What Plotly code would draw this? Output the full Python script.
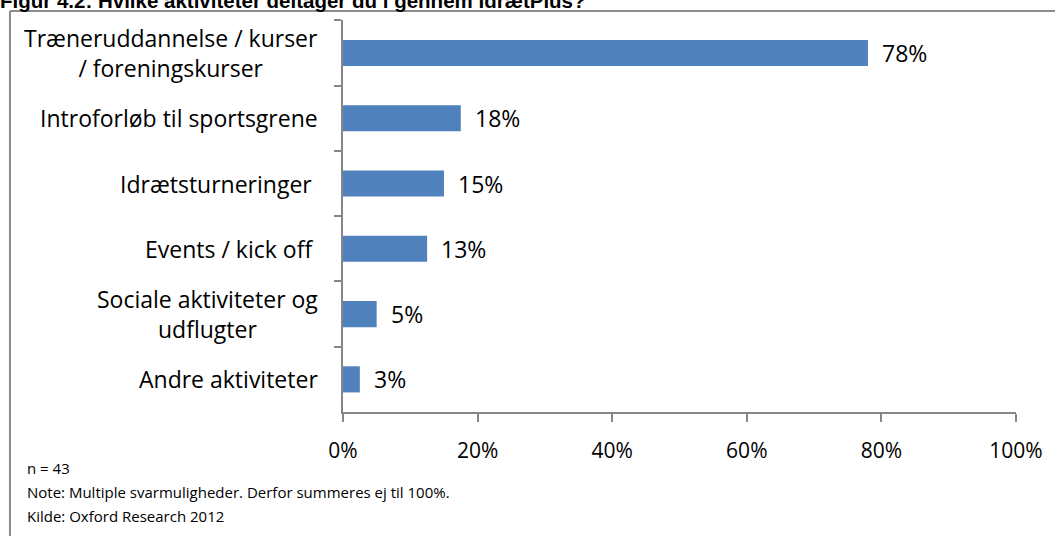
import plotly.graph_objects as go

# data
categories = [
    "Træneruddannelse / kurser<br>/ foreningskurser",
    "Introforløb til sportsgrene",
    "Idrætsturneringer ",
    "Events / kick off ",
    "Sociale aktiviteter og<br>udflugter",
    "Andre aktiviteter",
]
values = [0.78, 0.175, 0.15, 0.125, 0.05, 0.025]
value_labels = ["78%", "18%", "15%", "13%", "5%", "3%"]
x_ticks = [0, 0.2, 0.4, 0.6, 0.8, 1.0]

TITLE = "Figur 4.2: Hvilke aktiviteter deltager du i gennem IdrætPlus?"
FOOTNOTES = [
    "n = 43",
    "Note: Multiple svarmuligheder. Derfor summeres ej til 100%.",
    "Kilde: Oxford Research 2012",
]

FONT = "Open Sans, Calibri, sans-serif"
BAR_COLOR = "#4F81BD"
AXIS_COLOR = "#868686"

W, H = 1055, 536
ML, MR, MT, MB = 343, 35, 20, 124
PW, PH = W - ML - MR, H - MT - MB


def px_to_paper(xp, yp):
    return (xp - ML) / PW, (H - MB - yp) / PH


fig = go.Figure(go.Bar(
    x=values, y=categories, orientation="h",
    marker=dict(color=BAR_COLOR, line=dict(width=0)),
    hoverinfo="x+y",
))

annotations = []
# category labels: right aligned block, lines centered
for cat in categories:
    annotations.append(dict(
        x=0, xref="paper", y=cat, yref="y", text=cat,
        xanchor="right", align="center", xshift=-23,
        showarrow=False, font=dict(family=FONT, size=23, color="black"),
    ))
# value labels
for cat, v, lab in zip(categories, values, value_labels):
    annotations.append(dict(
        x=v, xref="x", y=cat, yref="y", text=lab,
        xanchor="left", xshift=12, showarrow=False,
        font=dict(family=FONT, size=23, color="black"),
    ))
# title (cut off at the top edge in the original)
tx, ty = px_to_paper(-4, 1)
annotations.append(dict(
    x=tx, xref="paper", y=ty, yref="paper", text="<b>" + TITLE + "</b>",
    xanchor="left", yanchor="middle", showarrow=False,
    font=dict(family="Liberation Sans, Arial", size=20.5, color="black"),
))
# footnotes
for i, line in enumerate(FOOTNOTES):
    fx, fy = px_to_paper(23, 468 + i * 24)
    annotations.append(dict(
        x=fx, xref="paper", y=fy, yref="paper", text=line,
        xanchor="left", yanchor="middle", showarrow=False,
        font=dict(family=FONT, size=15, color="black"),
    ))

# grey frame around the chart (left and top edges visible)
fx0, fy0 = px_to_paper(8, 11)
fx1, fy1 = px_to_paper(1200, 700)
shapes = [
    dict(type="line", xref="paper", yref="paper", x0=fx0, y0=fy0, x1=fx1, y1=fy0,
         line=dict(color="#8c8c8c", width=2)),
    dict(type="line", xref="paper", yref="paper", x0=fx0, y0=fy0, x1=fx0, y1=fy1,
         line=dict(color="#8c8c8c", width=2)),
]

fig.update_layout(
    width=W, height=H,
    margin=dict(l=ML, r=MR, t=MT, b=MB),
    paper_bgcolor="white", plot_bgcolor="white",
    showlegend=False, bargap=0.6,
    annotations=annotations, shapes=shapes,
    font=dict(family=FONT, size=20, color="black"),
)
fig.update_xaxes(
    range=[0, 1], tickvals=x_ticks, tickformat=".0%",
    showgrid=False, zeroline=False,
    showline=True, linecolor=AXIS_COLOR, linewidth=1.5,
    ticks="outside", ticklen=8, tickcolor=AXIS_COLOR, tickwidth=1.5,
    tickfont=dict(family=FONT, size=21, color="black"),
    ticklabelstandoff=11,
)
fig.update_yaxes(
    autorange="reversed", showticklabels=False, showgrid=False,
    showline=True, linecolor=AXIS_COLOR, linewidth=1.5,
    ticks="outside", tickson="boundaries", ticklen=7,
    tickcolor=AXIS_COLOR, tickwidth=1.5,
)

# remove the default 8px page margin so the figure sits at the window corner
fig.write_html(
    "out.html",
    config={"displayModeBar": False},
    post_script="document.body.style.margin='0';document.body.style.overflow='hidden';",
)
